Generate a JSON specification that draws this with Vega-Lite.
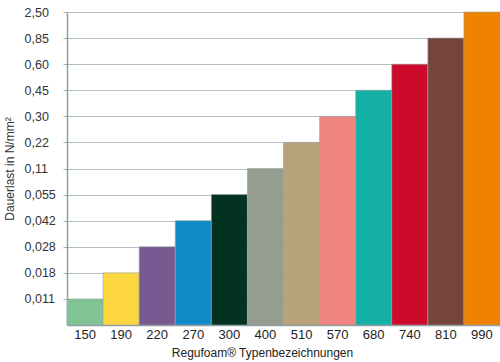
{
  "$schema": "https://vega.github.io/schema/vega-lite/v6.json",
  "width": 433,
  "height": 313,
  "autosize": {"type": "none"},
  "padding": {"left": 67, "top": 12, "right": 0, "bottom": 37},
  "background": "white",
  "data": {
    "values": [
      {"typ": "150", "stufe": 1, "last": "0,011", "farbe": "#80c495"},
      {"typ": "190", "stufe": 2, "last": "0,018", "farbe": "#fdd640"},
      {"typ": "220", "stufe": 3, "last": "0,028", "farbe": "#775a92"},
      {"typ": "270", "stufe": 4, "last": "0,042", "farbe": "#118ac8"},
      {"typ": "300", "stufe": 5, "last": "0,055", "farbe": "#033220"},
      {"typ": "400", "stufe": 6, "last": "0,11", "farbe": "#959c90"},
      {"typ": "510", "stufe": 7, "last": "0,22", "farbe": "#b8a27c"},
      {"typ": "570", "stufe": 8, "last": "0,30", "farbe": "#ef8480"},
      {"typ": "680", "stufe": 9, "last": "0,45", "farbe": "#15b0a6"},
      {"typ": "740", "stufe": 10, "last": "0,60", "farbe": "#cd0a2c"},
      {"typ": "810", "stufe": 11, "last": "0,85", "farbe": "#75453c"},
      {"typ": "990", "stufe": 12, "last": "2,50", "farbe": "#ef8200"}
    ]
  },
  "config": {
    "font": "Liberation Sans",
    "view": {"stroke": null}
  },
  "mark": {"type": "bar", "stroke": "#9aa3a6", "strokeWidth": 0.6},
  "encoding": {
    "x": {
      "field": "typ",
      "type": "ordinal",
      "sort": null,
      "scale": {"paddingInner": 0, "paddingOuter": 0},
      "axis": {
        "title": "Regufoam® Typenbezeichnungen",
        "titleFontSize": 12,
        "titleFontWeight": "normal",
        "titleColor": "#222",
        "titleX": 195,
        "titleY": 22,
        "titleBaseline": "top",
        "labelAngle": 0,
        "labelFontSize": 13,
        "labelColor": "#222",
        "labelPadding": 3,
        "ticks": false,
        "domainColor": "#8b9ea3",
        "domainWidth": 1.5
      }
    },
    "y": {
      "field": "stufe",
      "type": "quantitative",
      "scale": {"domain": [0, 12], "nice": false},
      "axis": {
        "title": "Dauerlast in N/mm²",
        "titleFontSize": 12,
        "titleFontWeight": "normal",
        "titleColor": "#333",
        "titleX": -51,
        "titleBaseline": "bottom",
        "values": [1, 2, 3, 4, 5, 6, 7, 8, 9, 10, 11, 12],
        "labelExpr": "['','0,011','0,018','0,028','0,042','0,055','0,11','0,22','0,30','0,45','0,60','0,85','2,50'][datum.value]",
        "labelAlign": "left",
        "labelPadding": 39,
        "tickSize": 4,
        "tickColor": "#9fb0b5",
        "labelFontSize": 12.5,
        "labelColor": "#333",
        "grid": true,
        "gridColor": "#b4c0c4",
        "gridWidth": 1,
        "domainColor": "#8b9ea3",
        "domainWidth": 1.5
      }
    },
    "color": {"field": "farbe", "type": "nominal", "scale": null, "legend": null}
  }
}
